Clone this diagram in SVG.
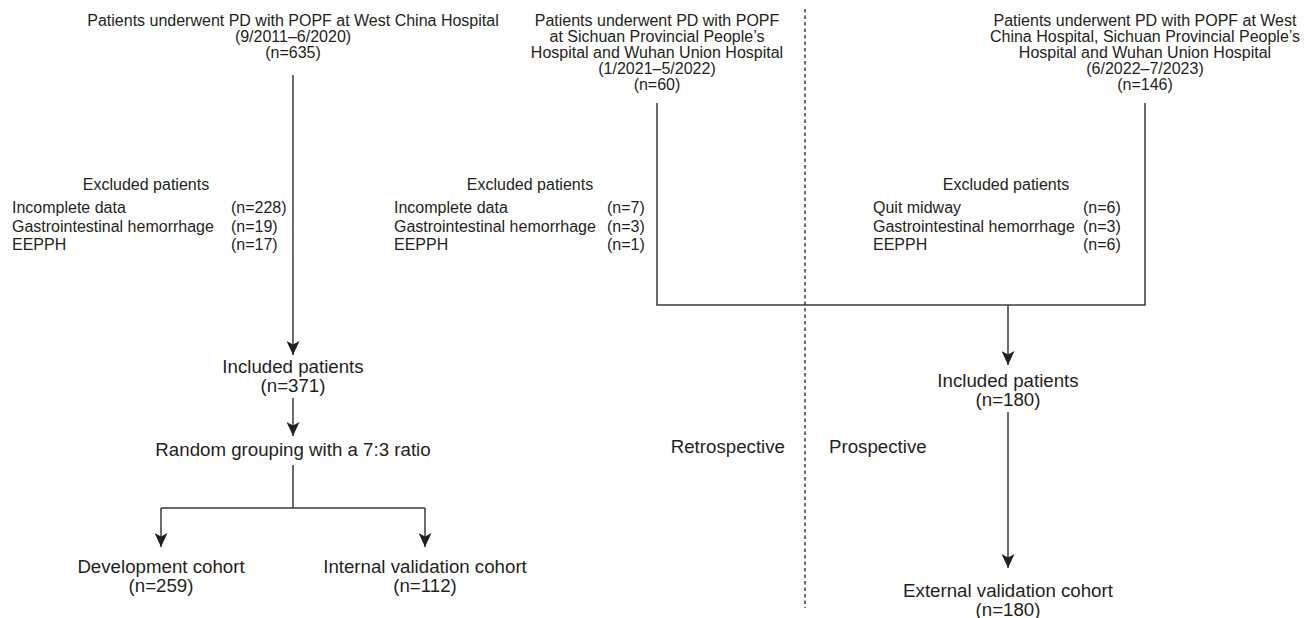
<svg xmlns="http://www.w3.org/2000/svg" width="1311" height="618" viewBox="0 0 1311 618">
<style>
text{font-family:"Liberation Sans",Arial,Helvetica,sans-serif;fill:#231f20}
.s{font-size:16px}
.l{font-size:18.7px}
.m{text-anchor:middle}
.e{text-anchor:end}
.ln{stroke:#3a3a3a;stroke-width:1.5;fill:none}
.dash{stroke:#231f20;stroke-width:1.3;stroke-dasharray:3.5 3;fill:none}
</style>
<defs>
<marker id="ah" viewBox="0 0 14 13" refX="14" refY="6.5" markerWidth="14" markerHeight="13" markerUnits="userSpaceOnUse" orient="auto">
<path d="M0,0 L14,6.5 L0,13 L3.5,6.5 Z" fill="#231f20"/>
</marker>
</defs>
<rect width="1311" height="618" fill="#ffffff"/>
<g id="connectors">
<line class="dash" x1="805" y1="9" x2="805" y2="608"/>
<line class="ln" x1="293" y1="75" x2="293" y2="355" marker-end="url(#ah)"/>
<line class="ln" x1="293" y1="398" x2="293" y2="436" marker-end="url(#ah)"/>
<polyline class="ln" points="293,465 293,508"/>
<polyline class="ln" points="161,508 425,508"/>
<line class="ln" x1="161" y1="508" x2="161" y2="547" marker-end="url(#ah)"/>
<line class="ln" x1="425" y1="508" x2="425" y2="547" marker-end="url(#ah)"/>
<polyline class="ln" points="657,103 657,305 1145,305 1145,103"/>
<line class="ln" x1="1008" y1="305" x2="1008" y2="365" marker-end="url(#ah)"/>
<line class="ln" x1="1008" y1="412" x2="1008" y2="568" marker-end="url(#ah)"/>
</g>
<g id="src-wch">
<text class="s m" x="293" y="26">Patients underwent PD with POPF at West China Hospital</text>
<text class="s m" x="293" y="42">(9/2011–6/2020)</text>
<text class="s m" x="293" y="58">(n=635)</text>
</g>
<g id="src-retro">
<text class="s m" x="657" y="26">Patients underwent PD with POPF</text>
<text class="s m" x="657" y="42">at Sichuan Provincial People’s</text>
<text class="s m" x="657" y="58">Hospital and Wuhan Union Hospital</text>
<text class="s m" x="657" y="74">(1/2021–5/2022)</text>
<text class="s m" x="657" y="90">(n=60)</text>
</g>
<g id="src-pro">
<text class="s m" x="1145" y="26">Patients underwent PD with POPF at West</text>
<text class="s m" x="1145" y="42">China Hospital, Sichuan Provincial People’s</text>
<text class="s m" x="1145" y="58">Hospital and Wuhan Union Hospital</text>
<text class="s m" x="1145" y="74">(6/2022–7/2023)</text>
<text class="s m" x="1145" y="90">(n=146)</text>
</g>
<g id="excl-left">
<text class="s m" x="146" y="190">Excluded patients</text>
<text class="s" x="12" y="213">Incomplete data</text>
<text class="s" x="12" y="231.5">Gastrointestinal hemorrhage</text>
<text class="s" x="12" y="250">EEPPH</text>
<text class="s" x="231" y="213">(n=228)</text>
<text class="s" x="231" y="231.5">(n=19)</text>
<text class="s" x="231" y="250">(n=17)</text>
</g>
<g id="excl-mid">
<text class="s m" x="530" y="190">Excluded patients</text>
<text class="s" x="394" y="213">Incomplete data</text>
<text class="s" x="394" y="231.5">Gastrointestinal hemorrhage</text>
<text class="s" x="394" y="250">EEPPH</text>
<text class="s" x="607" y="213">(n=7)</text>
<text class="s" x="607" y="231.5">(n=3)</text>
<text class="s" x="607" y="250">(n=1)</text>
</g>
<g id="excl-right">
<text class="s m" x="1006" y="190">Excluded patients</text>
<text class="s" x="873" y="213">Quit midway</text>
<text class="s" x="873" y="231.5">Gastrointestinal hemorrhage</text>
<text class="s" x="873" y="250">EEPPH</text>
<text class="s" x="1083" y="213">(n=6)</text>
<text class="s" x="1083" y="231.5">(n=3)</text>
<text class="s" x="1083" y="250">(n=6)</text>
</g>
<g id="incl-left">
<text class="l m" x="293" y="373">Included patients</text>
<text class="l m" x="293" y="392">(n=371)</text>
</g>
<g id="random">
<text class="l m" x="293" y="456">Random grouping with a 7:3 ratio</text>
</g>
<g id="dev">
<text class="l m" x="161" y="573">Development cohort</text>
<text class="l m" x="161" y="592">(n=259)</text>
</g>
<g id="internal">
<text class="l m" x="425" y="573">Internal validation cohort</text>
<text class="l m" x="425" y="592">(n=112)</text>
</g>
<g id="incl-right">
<text class="l m" x="1008" y="387">Included patients</text>
<text class="l m" x="1008" y="406">(n=180)</text>
</g>
<g id="external">
<text class="l m" x="1008" y="597">External validation cohort</text>
<text class="l m" x="1008" y="616">(n=180)</text>
</g>
<g id="labels">
<text class="l e" x="785" y="453">Retrospective</text>
<text class="l" x="829" y="453">Prospective</text>
</g>
</svg>
